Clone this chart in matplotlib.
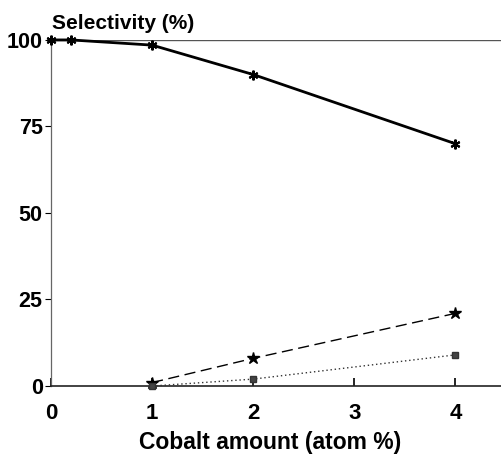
import numpy as np
import matplotlib.pyplot as plt

plt.rcParams['font.family'] = ['Liberation Sans', 'DejaVu Sans']

# selectivity vs cobalt amount
x_main = [0, 0.2, 1, 2, 4]
sel_main = [100, 100, 98.5, 90, 70]
x_minor = [1, 2, 4]
sel_dash = [1, 8, 21]
sel_dot = [0, 2, 9]

yticks = [0, 25, 50, 75, 100]
xticks = [0, 1, 2, 3, 4]

fig = plt.figure(figsize=(5.02, 4.59), dpi=100)
ax = fig.add_axes([0.1016, 0.159, 0.8984, 0.754])

ax.plot(x_main, sel_main, color='black', lw=2.0, marker=(6, 2, 0), ms=7,
        mew=1.5, clip_on=False, zorder=3)
ax.plot(x_minor, sel_dash, color='black', lw=1.0, ls=(0, (8, 4)),
        marker='*', ms=9, clip_on=False, zorder=3)
ax.plot(x_minor, sel_dot, color='#333333', lw=1.0, ls=(0, (1, 2)),
        marker='s', ms=5, mfc='#444444', clip_on=False, zorder=3)

ax.set_xlim(0, 4.46)
ax.set_ylim(0, 100)
ax.axhline(100, color='#555555', lw=1.0, zorder=1)

for s in ['top', 'right']:
    ax.spines[s].set_visible(False)
ax.spines['left'].set_color('#666666')
ax.spines['left'].set_linewidth(0.9)
ax.spines['bottom'].set_color('#222222')
ax.spines['bottom'].set_linewidth(1.2)

ax.set_yticks(yticks)
ax.set_yticklabels([str(v) for v in yticks], fontsize=15.5, fontweight='bold')
ax.set_xticks(xticks)
ax.set_xticklabels([str(v) for v in xticks], fontsize=16, fontweight='bold')
ax.tick_params(axis='y', direction='out', length=4, width=0.8, pad=2)
ax.tick_params(axis='x', direction='in', length=6, width=1.2, pad=12)

fig.text(0.104, 0.928, 'Selectivity (%)', fontsize=15, ha='left', va='bottom',
         fontweight='bold')
fig.text(0.538, 0.035, 'Cobalt amount (atom %)', fontsize=16.5, ha='center',
         va='center', fontweight='bold')

fig.savefig('out.png', dpi=100)
